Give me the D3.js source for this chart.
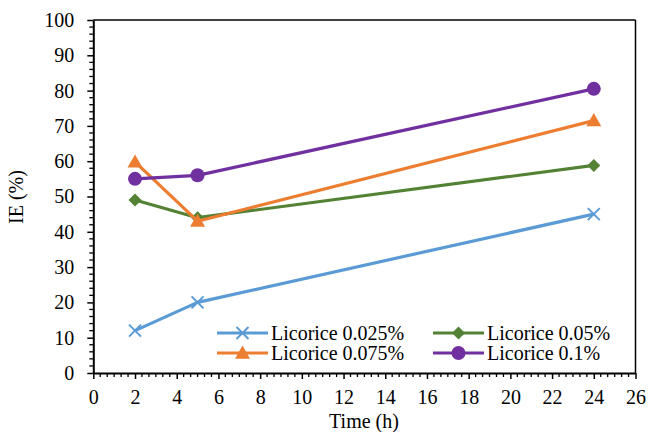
<!DOCTYPE html>
<html><head><meta charset="utf-8">
<script src="https://cdn.jsdelivr.net/npm/d3@7"></script>
<style>body{margin:0;background:#fff}svg{display:block}svg text{font-family:'Liberation Serif','DejaVu Serif',serif !important;fill:#000}</style>
</head><body><svg id="c" width="649" height="432"></svg>
<script>
const times = [2, 5, 24];
const seriesNames = ["Licorice 0.025%", "Licorice 0.05%", "Licorice 0.075%", "Licorice 0.1%"];
const v025 = [12, 20, 45];
const v05 = [49, 44, 58.8];
const v075 = [59.8, 43, 71.5];
const v1 = [55, 56, 80.5];
const colors = ["#5B9BD5", "#548235", "#ED7D31", "#7030A0"];
const markers = ["x", "diamond", "triangle", "circle"];
const xTicks = d3.range(0, 27, 2);
const yTicks = d3.range(0, 101, 10);

const values = [v025, v05, v075, v1];
const svg = d3.select("#c");
const L = 93.3, R = 635.5, T = 20, B = 373;
const x = d3.scaleLinear().domain([0, 26]).range([L, R]);
const y = d3.scaleLinear().domain([0, 100]).range([B, T]);

svg.append("line").attr("x1", L).attr("x2", R).attr("y1", T).attr("y2", T).attr("stroke", "#000").attr("stroke-width", 1.5);
svg.append("line").attr("x1", R).attr("x2", R).attr("y1", T).attr("y2", B).attr("stroke", "#000").attr("stroke-width", 1.5);

const yMinor = d3.range(0, 101, 2).filter(v => v % 10 !== 0);
svg.append("g").selectAll("line").data(yMinor).join("line")
  .attr("x1", L - 4).attr("x2", L).attr("y1", d => y(d)).attr("y2", d => y(d))
  .attr("stroke", "#000").attr("stroke-width", 1.3);
const xMinor = d3.range(0, 78).map(i => i / 3).filter((v, i) => i % 6 !== 0);
svg.append("g").selectAll("line").data(xMinor).join("line")
  .attr("x1", d => x(d)).attr("x2", d => x(d)).attr("y1", B).attr("y2", B + 4)
  .attr("stroke", "#000").attr("stroke-width", 1.3);

const yAxis = svg.append("g").attr("transform", `translate(${L},0)`)
  .call(d3.axisLeft(y).tickValues(yTicks).tickSize(6).tickPadding(13).tickSizeOuter(0));
const xAxis = svg.append("g").attr("transform", `translate(0,${B})`)
  .call(d3.axisBottom(x).tickValues(xTicks).tickSize(6).tickPadding(11).tickSizeOuter(0));
[yAxis, xAxis].forEach(a => {
  a.attr("font-family", null);
  a.select(".domain").attr("stroke", "#000").attr("stroke-width", 2);
  a.selectAll(".tick line").attr("stroke", "#000").attr("stroke-width", 1.5);
  a.selectAll("text").attr("font-size", 20).attr("fill", "#000");
});

svg.append("text").attr("x", 364).attr("y", 427.5).attr("text-anchor", "middle").attr("font-size", 20).text("Time (h)");
svg.append("text").attr("transform", "translate(23,197) rotate(-90)").attr("text-anchor", "middle").attr("font-size", 20).text("IE (%)");

function drawMarker(g, type, cx, cy, color) {
  if (type === "x") {
    const s = 6;
    g.append("path").attr("d", `M${cx - s},${cy - s}L${cx + s},${cy + s}M${cx - s},${cy + s}L${cx + s},${cy - s}`)
      .attr("stroke", color).attr("stroke-width", 2).attr("fill", "none");
  } else if (type === "diamond") {
    const s = 6.5;
    g.append("path").attr("d", `M${cx},${cy - s}L${cx + s},${cy}L${cx},${cy + s}L${cx - s},${cy}Z`).attr("fill", color);
  } else if (type === "triangle") {
    const s = 7.5;
    g.append("path").attr("d", `M${cx},${cy - s}L${cx + s},${cy + s * 0.75}L${cx - s},${cy + s * 0.75}Z`).attr("fill", color);
  } else {
    g.append("circle").attr("cx", cx).attr("cy", cy).attr("r", 7).attr("fill", color);
  }
}

const line = d3.line().x((d, i) => x(times[i])).y(d => y(d));
values.forEach((vals, si) => {
  const g = svg.append("g");
  g.append("path").attr("d", line(vals)).attr("fill", "none").attr("stroke", colors[si]).attr("stroke-width", 3.2).attr("stroke-linejoin", "round");
  vals.forEach((v, i) => drawMarker(g, markers[si], x(times[i]), y(v), colors[si]));
});

const legendPos = [[217, 333], [433, 333], [217, 353], [433, 353]];
seriesNames.forEach((name, si) => {
  const [lx, ly] = legendPos[si];
  const g = svg.append("g");
  g.append("line").attr("x1", lx).attr("x2", lx + 51).attr("y1", ly).attr("y2", ly).attr("stroke", colors[si]).attr("stroke-width", 3.2);
  drawMarker(g, markers[si], lx + 25.5, ly, colors[si]);
  g.append("text").attr("x", lx + 54).attr("y", ly + 7).attr("font-size", 20).text(name);
});
</script></body></html>
